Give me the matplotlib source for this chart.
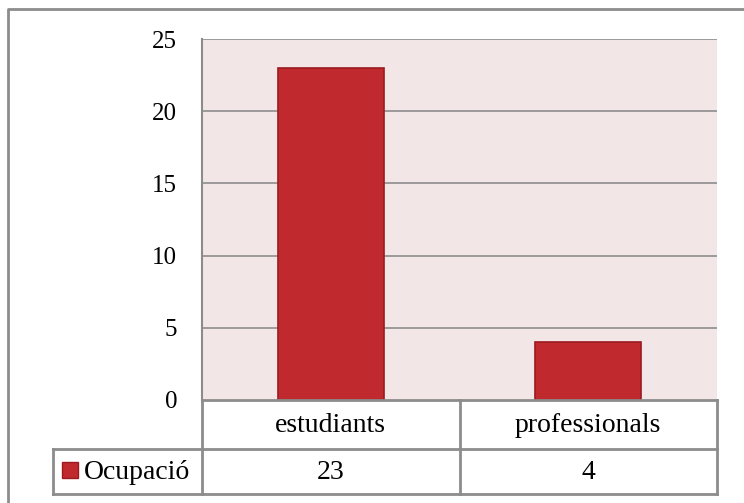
import matplotlib.pyplot as plt
from matplotlib.lines import Line2D
from matplotlib.patches import Rectangle
from matplotlib.transforms import blended_transform_factory

# chart data
categories = ['estudiants', 'professionals']
values = [23, 4]
series_name = 'Ocupació'
y_ticks = [0, 5, 10, 15, 20, 25]

bar_color = '#C0292E'
bar_edge = '#9B1B1F'
plot_bg = '#F2E6E6'
line_grey = '#8C8C8C'

W, H = 744, 503
plt.rcParams['font.family'] = ['Liberation Serif', 'DejaVu Serif']

fig = plt.figure(figsize=(W / 100, H / 100), dpi=100, facecolor='white')


def fx(px):
    return px / W


def fy(py):
    return 1 - py / H


# plot area
left, top, right, bottom = 202, 39, 717, 400
ax = fig.add_axes([fx(left), fy(bottom), fx(right - left), fy(top) - fy(bottom)])
ax.set_facecolor(plot_bg)

x = list(range(len(categories)))
ax.bar(x, values, width=0.41, color=bar_color, edgecolor=bar_edge,
       linewidth=1.2, zorder=3)

ax.set_xlim(-0.5, len(categories) - 0.5)
ax.set_ylim(y_ticks[0], y_ticks[-1])
ax.set_yticks(y_ticks)
ax.set_yticklabels([str(t) for t in y_ticks], fontsize=18)
ax.tick_params(axis='y', length=0, pad=18)
ax.set_xticks([])
for t in y_ticks[1:]:
    ax.axhline(t, color=line_grey, linewidth=1.2, zorder=1)

for side in ['top', 'right', 'bottom']:
    ax.spines[side].set_visible(False)
ax.spines['left'].set_color(line_grey)
ax.spines['left'].set_linewidth(1.5)

# data table under the axis
tr = blended_transform_factory(ax.transData, fig.transFigure)
row1_bot, row2_bot = 449, 494
legend_left = 53
n = len(categories)
tsize = 20


def fig_line(xs, ys, **kw):
    fig.add_artist(Line2D(xs, ys, color=line_grey, linewidth=2, **kw))


# horizontal rules
fig_line([fx(left), fx(right)], [fy(bottom), fy(bottom)])
fig_line([fx(legend_left), fx(right)], [fy(row1_bot), fy(row1_bot)])
fig_line([fx(legend_left), fx(right)], [fy(row2_bot), fy(row2_bot)])
# vertical rules
fig_line([fx(legend_left), fx(legend_left)], [fy(row1_bot), fy(row2_bot)])
for b in range(n + 1):
    xb = b - 0.5
    fig.add_artist(Line2D([xb, xb], [fy(bottom), fy(row2_bot)], transform=tr,
                          color=line_grey, linewidth=2))

for i, (cat, val) in enumerate(zip(categories, values)):
    fig.text(i, fy((bottom + row1_bot) / 2 + 1), cat, transform=tr,
             ha='center', va='center', fontsize=tsize)
    fig.text(i, fy((row1_bot + row2_bot) / 2 + 1), str(val), transform=tr,
             ha='center', va='center', fontsize=tsize)

# legend key in row label cell
fig.add_artist(Rectangle((fx(62), fy(478)), fx(16), fy(462) - fy(478),
                         facecolor=bar_color, edgecolor=bar_edge, linewidth=1))
fig.text(fx(84), fy((row1_bot + row2_bot) / 2 + 1), series_name,
         ha='left', va='center', fontsize=tsize)

# outer chart frame (right and bottom edges fall outside the image)
fig.add_artist(Line2D([fx(8), fx(8), fx(W + 5)], [fy(H + 5), fy(9), fy(9)],
                      color=line_grey, linewidth=2))

fig.savefig('out.png', dpi=100, facecolor='white')
